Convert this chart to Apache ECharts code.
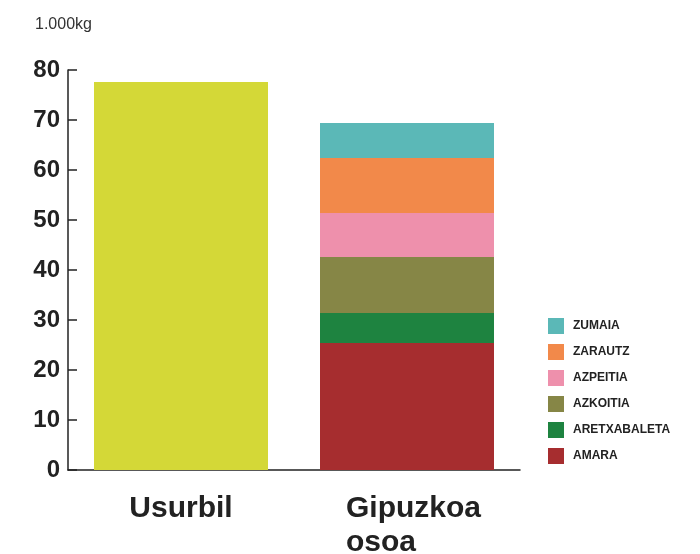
<!DOCTYPE html>
<html>
<head>
<meta charset="utf-8">
<style>
  html, body { margin: 0; padding: 0; background: #fff; }
  #main { width: 700px; height: 554px; }
</style>
<script src="https://cdn.jsdelivr.net/npm/echarts@6/dist/echarts.min.js"></script>
</head>
<body>
<div id="main"></div>
<script>
// datuak (1.000kg)
var categories = ["Usurbil", "Gipuzkoa\nosoa"];
var usurbil = [77.6, "-"];
// Gipuzkoa osoa, behetik gora
var zoneNames = ["AMARA", "ARETXABALETA", "AZKOITIA", "AZPEITIA", "ZARAUTZ", "ZUMAIA"];
var zoneValues = [25.4, 6.0, 11.2, 8.8, 11.0, 7.0];
var zoneColors = ["#a62d2f", "#1e8340", "#868646", "#ee90ac", "#f2894a", "#5bb8b7"];

var font = "Liberation Sans";
var myChart = echarts.init(document.getElementById("main"));

var series = [{
  name: "Usurbil",
  type: "bar",
  stack: "total",
  barWidth: 174,
  itemStyle: { color: "#d4d837" },
  data: usurbil
}];
zoneNames.forEach(function (name, i) {
  series.push({
    name: name,
    type: "bar",
    stack: "total",
    barWidth: 174,
    itemStyle: { color: zoneColors[i] },
    data: ["-", zoneValues[i]]
  });
});

myChart.setOption({
  animation: false,
  backgroundColor: "#fff",
  title: {
    text: "1.000kg",
    left: 30,
    top: 12,
    textStyle: { fontFamily: font, fontSize: 16, fontWeight: "normal", color: "#333" }
  },
  legend: {
    orient: "vertical",
    left: 548,
    top: 318,
    padding: 0,
    itemWidth: 16,
    itemHeight: 16,
    itemGap: 10,
    icon: "rect",
    data: zoneNames.slice().reverse(),
    textStyle: { fontFamily: font, fontSize: 12, fontWeight: "bold", color: "#222", padding: [0, 0, 0, 4] }
  },
  grid: { left: 68, right: 180, top: 70, bottom: 84, outerBoundsMode: "none", containLabel: false },
  xAxis: {
    type: "category",
    data: categories,
    axisLine: { lineStyle: { color: "#222", width: 1.5 } },
    axisTick: { inside: true, length: 9, lineStyle: { color: "#222", width: 1.5 } },
    axisLabel: {
      color: "#222",
      margin: 22,
      formatter: function (v) {
        if (v.indexOf("\n") < 0) return "{c|" + v + "}";
        return v.split("\n").map(function (s) { return "{g|" + s + "}"; }).join("\n");
      },
      rich: {
        c: { fontFamily: font, fontSize: 30, fontWeight: "bold", color: "#222", lineHeight: 34 },
        g: { fontFamily: font, fontSize: 30, fontWeight: "bold", color: "#222", lineHeight: 34,
             width: 136, align: "left", padding: [0, 0, 0, 14] }
      }
    }
  },
  yAxis: {
    type: "value",
    min: 0,
    max: 80,
    interval: 10,
    splitLine: { show: false },
    axisLine: { show: true, lineStyle: { color: "#222", width: 1.5 } },
    axisTick: { show: true, inside: true, length: 9, lineStyle: { color: "#222", width: 1.5 } },
    axisLabel: { fontFamily: font, fontSize: 24, fontWeight: "bold", color: "#222", margin: 8 }
  },
  series: series
});
</script>
</body>
</html>
